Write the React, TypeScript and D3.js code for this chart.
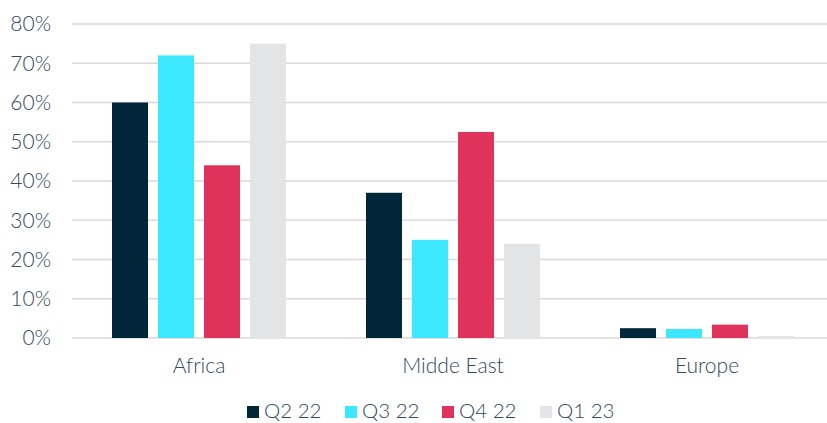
import * as d3 from 'd3';
import { useEffect, useRef } from "react";

const regions = ['Africa', 'Midde East', 'Europe'];
const quarters = ['Q2 22', 'Q3 22', 'Q4 22', 'Q1 23'];
const q2_22 = [60, 37, 2.5];
const q3_22 = [72, 25, 2.3];
const q4_22 = [44, 52.5, 3.4];
const q1_23 = [75, 24, 0.5];
const yTicks = [0, 10, 20, 30, 40, 50, 60, 70, 80];

const seriesValues = [q2_22, q3_22, q4_22, q1_23];
const colors = ['#01263A', '#3DE8FF', '#E0335B', '#E3E4E6'];

const WIDTH = 827;
const HEIGHT = 423;
const TEXT_COLOR = '#33495C';

export default function App() {
    const ref = useRef(null);
    useEffect(() => {
        if (!ref.current) return;
        const svg = d3.select(ref.current);
        svg.selectAll("*").remove();

        // plot area runs a bit past the right edge of the picture
        const left = 72, right = 834, top = 24, bottom = 338;

        const x0 = d3.scaleBand<string>().domain(regions).range([left, right]).padding(0);
        const x1 = d3.scaleBand<string>().domain(quarters)
            .range([40, 214])
            .paddingInner(0.217)
            .paddingOuter(0);
        const y = d3.scaleLinear().domain([0, 80]).range([bottom, top]);

        // gridlines
        svg.append('g')
            .selectAll('line')
            .data(yTicks)
            .enter()
            .append('line')
            .attr('x1', left)
            .attr('x2', right)
            .attr('y1', d => y(d))
            .attr('y2', d => y(d))
            .attr('stroke', '#D9D9D9')
            .attr('stroke-width', 1.5);

        svg.append('g')
            .selectAll('text')
            .data(yTicks)
            .enter()
            .append('text')
            .attr('x', 51)
            .attr('y', d => y(d))
            .attr('dy', '0.35em')
            .attr('text-anchor', 'end')
            .attr('fill', TEXT_COLOR)
            .text(d => `${d}%`);

        // bars
        const groups = svg.append('g')
            .selectAll('g')
            .data(regions)
            .enter()
            .append('g')
            .attr('transform', d => `translate(${x0(d)},0)`);

        groups.selectAll('rect')
            .data((_, i) => quarters.map((q, s) => ({ q, s, v: seriesValues[s][i] })))
            .enter()
            .append('rect')
            .attr('x', d => x1(d.q)!)
            .attr('width', x1.bandwidth())
            .attr('y', d => y(d.v))
            .attr('height', d => bottom - y(d.v))
            .attr('fill', d => colors[d.s]);

        // category labels
        svg.append('g')
            .selectAll('text')
            .data(regions)
            .enter()
            .append('text')
            .attr('x', d => x0(d)! + x0.bandwidth() / 2)
            .attr('y', 373)
            .attr('text-anchor', 'middle')
            .attr('fill', TEXT_COLOR)
            .text(d => d);

        // legend
        const legendX = [247, 345, 442, 540];
        const legend = svg.append('g')
            .selectAll('g')
            .data(quarters)
            .enter()
            .append('g')
            .attr('transform', (_, i) => `translate(${legendX[i]},411)`);
        legend.append('rect')
            .attr('x', 0)
            .attr('y', -5)
            .attr('width', 12)
            .attr('height', 12)
            .attr('fill', (_, i) => colors[i]);
        legend.append('text')
            .attr('x', 17)
            .attr('y', 0)
            .attr('dy', '0.36em')
            .attr('fill', TEXT_COLOR)
            .style('font-size', '20.5px')
            .text(d => d);
    }, []);

    return (
        <svg ref={ref} width={WIDTH} height={HEIGHT}
            style={{ position: 'absolute', left: 0, top: 0, fontFamily: 'Lato, sans-serif', fontWeight: 300, fontSize: '21px' }}></svg>
    );
}
